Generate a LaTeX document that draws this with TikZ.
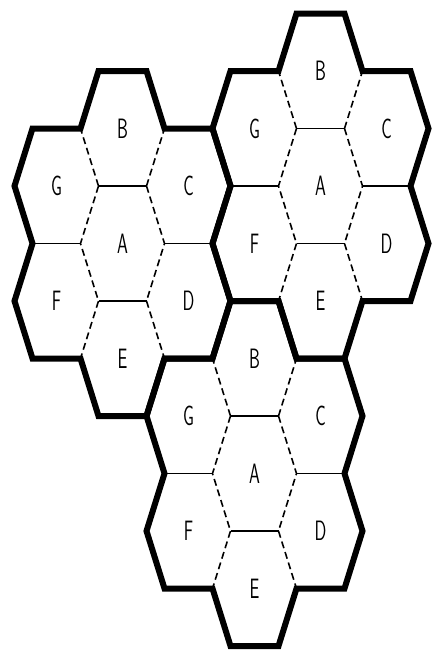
\documentclass[tikz,border=0pt]{standalone}
\usepackage{tikz}
\usetikzlibrary{calc}

\begin{document}
\begin{tikzpicture}[x=1pt, y=-1pt,
    cellwall/.style={line width=1.6pt, black},
    celldash/.style={line width=1.6pt, black, dash pattern=on 7pt off 4pt},
    clusterwall/.style={line width=6pt, black, line join=miter},
    cellname/.style={font=\sffamily\fontsize{28}{28}\selectfont, inner sep=0pt}
]
\useasboundingbox (0,0) rectangle (431,653);

% --- Three seven-cell clusters ---
\foreach \cl/\cx/\cy in {L/122.5/243.5, R/320.5/186, S/254.5/473.5} {
  \begin{scope}[shift={(\cx,\cy)}]
    % Cell letters
    \foreach \lab/\dx/\dy in {A/0/0, B/0/-115, C/66/-57.5, D/66/57.5,
                               E/0/115, F/-66/57.5, G/-66/-57.5} {
      \node[cellname] (\cl\lab) at (\dx,\dy) {\scalebox{0.62}[1]{\lab}};
    }

    % Walls between cells of one cluster
    \draw[cellwall] (-24,-57.5) -- (24,-57.5) (-24,57.5) -- (24,57.5)
                    (42,0) -- (90,0) (-42,0) -- (-90,0);
    \draw[celldash] (24,-57.5) -- (42,0) -- (24,57.5)
                    (-24,-57.5) -- (-42,0) -- (-24,57.5)
                    (24,-57.5) -- (42,-115) (24,57.5) -- (42,115)
                    (-24,57.5) -- (-42,115) (-24,-57.5) -- (-42,-115);

    % Cluster boundary
    \draw[clusterwall] (-24,-172.5) -- (24,-172.5) -- (42,-115) -- (90,-115)
        -- (108,-57.5) -- (90,0) -- (108,57.5) -- (90,115) -- (42,115)
        -- (24,172.5) -- (-24,172.5) -- (-42,115) -- (-90,115) -- (-108,57.5)
        -- (-90,0) -- (-108,-57.5) -- (-90,-115) -- (-42,-115) -- cycle;
  \end{scope}
}

\end{tikzpicture}
\end{document}
